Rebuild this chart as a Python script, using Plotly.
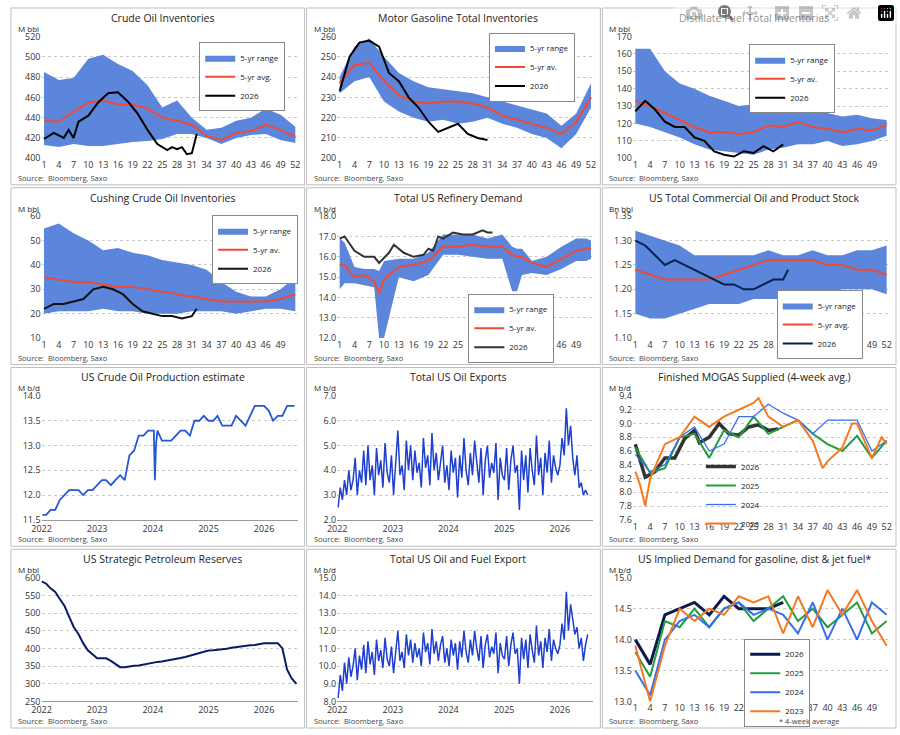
import pandas as pd
import plotly.graph_objects as go
from plotly.subplots import make_subplots

# ---- data ----
W = [1, 4, 7, 10, 13, 16, 19, 22, 25, 28, 31, 34, 37, 40, 43, 46, 49, 52]

crude_hi = [485, 477, 479, 498, 502, 493, 486, 472, 450, 457, 440, 428, 430, 437, 440, 449, 443, 431]
crude_lo = [413, 411, 414, 412, 412, 414, 416, 417, 419, 424, 424, 420, 414, 420, 423, 424, 418, 415]
crude_avg = [437, 436, 446, 455, 457, 453, 453, 449, 440, 437, 433, 422, 418, 425, 427, 433, 428, 421]
crude_wk = [1, 3, 5, 6, 7, 8, 10, 12, 14, 16, 18, 20, 22, 24, 26, 27, 28, 29, 30, 31, 32]
crude_26 = [419, 425, 420, 428, 420, 436, 442, 455, 464, 465, 456, 444, 428, 414, 408, 411, 409, 411, 404, 405, 424]

gas_hi = [240, 255, 259, 250, 242, 238, 235, 234, 233, 232, 230, 228, 226, 224, 222, 216, 222, 237]
gas_lo = [232, 238, 240, 228, 223, 220, 218, 219, 217, 218, 220, 217, 215, 212, 210, 205, 212, 225]
gas_avg = [237, 246, 247, 238, 231, 228, 227, 228, 228, 227, 225, 221, 219, 217, 215, 212, 218, 230]
gas_wk = [1, 3, 5, 7, 9, 11, 13, 15, 17, 19, 21, 23, 25, 27, 29, 31]
gas_26 = [233, 250, 257, 258, 255, 242, 238, 230, 225, 218, 213, 215, 217, 212, 210, 209]

dist_hi = [163, 163, 150, 143, 140, 136, 133, 130, 131, 135, 130, 128, 127, 126, 124, 125, 123, 122]
dist_lo = [120, 118, 115, 112, 108, 105, 104, 103, 102, 105, 106, 108, 108, 110, 107, 108, 110, 113]
dist_avg = [133, 130, 126, 122, 118, 115, 115, 114, 115, 119, 118, 121, 118, 117, 115, 117, 116, 119]
dist_wk = [1, 3, 5, 7, 9, 11, 13, 15, 17, 19, 21, 23, 25, 27, 29, 31]
dist_26 = [127, 133, 128, 121, 118, 118, 112, 110, 104, 102, 101, 104, 103, 107, 104, 108]

cush_hi = [55, 57, 53, 50, 46, 47, 45, 44, 42, 41, 40, 38, 33, 29, 27, 27, 30, 35]
cush_lo = [20, 21, 21, 21, 22, 21, 21, 20, 20, 20, 21, 21, 21, 20, 21, 22, 22, 21]
cush_avg = [35, 34, 33, 33, 32, 31, 31, 30, 29, 28, 27, 26, 25, 25, 25, 25, 26, 28]
cush_wk = [1, 3, 5, 7, 9, 11, 13, 15, 17, 19, 21, 23, 25, 27, 29, 31, 32]
cush_26 = [22, 24, 24, 25, 26, 30, 31, 30, 28, 24, 21, 20, 19, 19, 18, 19, 22]

ref_wk = [1, 2, 4, 6, 8, 9, 10, 13, 16, 19, 22, 25, 28, 31, 34, 36, 37, 38, 40, 43, 46, 49, 51, 52]
ref_hi = [16.9, 16.7, 15.5, 15.4, 15.4, 15.3, 15.8, 15.9, 15.9, 16.2, 17.1, 17.1, 17.1, 16.9, 17.1, 16.5, 16.4, 16.4, 15.8, 16.0, 16.5, 16.9, 16.9, 16.8]
ref_lo = [14.4, 14.7, 14.7, 14.6, 14.5, 12.0, 12.0, 15.0, 14.8, 15.1, 16.1, 16.1, 16.0, 15.9, 15.9, 14.3, 14.3, 15.1, 15.2, 15.1, 15.4, 15.8, 15.8, 15.9]
ref_avg = [15.6, 15.6, 15.0, 15.1, 14.8, 14.2, 14.9, 15.5, 15.6, 15.8, 16.5, 16.5, 16.6, 16.5, 16.5, 16.1, 16.0, 16.0, 15.7, 15.5, 15.9, 16.3, 16.4, 16.4]
ref_26wk = [1, 2, 4, 6, 8, 9, 11, 12, 14, 16, 18, 19, 20, 21, 22, 24, 26, 28, 30, 31, 32]
ref_26 = [16.9, 17.0, 16.3, 16.0, 16.0, 15.7, 16.2, 16.6, 16.2, 16.0, 16.1, 16.4, 16.3, 17.0, 16.9, 17.2, 17.1, 17.1, 17.3, 17.2, 17.2]

com_hi = [1.32, 1.31, 1.30, 1.29, 1.27, 1.27, 1.27, 1.27, 1.27, 1.28, 1.27, 1.27, 1.28, 1.27, 1.27, 1.28, 1.28, 1.29]
com_lo = [1.15, 1.14, 1.14, 1.15, 1.16, 1.17, 1.17, 1.17, 1.18, 1.18, 1.18, 1.18, 1.19, 1.19, 1.20, 1.20, 1.20, 1.19]
com_avg = [1.24, 1.23, 1.22, 1.22, 1.22, 1.22, 1.23, 1.24, 1.25, 1.26, 1.26, 1.26, 1.26, 1.25, 1.25, 1.24, 1.24, 1.23]
com_wk = [1, 3, 5, 7, 9, 11, 13, 15, 17, 19, 21, 23, 25, 27, 29, 31, 32]
com_26 = [1.30, 1.29, 1.27, 1.25, 1.26, 1.25, 1.24, 1.23, 1.22, 1.21, 1.21, 1.20, 1.20, 1.21, 1.22, 1.22, 1.24]

prod_dates = ["2022-01-07", "2022-02-01", "2022-03-01", "2022-04-01", "2022-05-01", "2022-06-01", "2022-07-01",
              "2022-08-01", "2022-09-01", "2022-10-01", "2022-11-01", "2022-12-01", "2023-01-01", "2023-02-01",
              "2023-03-01", "2023-04-01", "2023-05-01", "2023-06-01", "2023-07-01", "2023-08-01", "2023-09-01",
              "2023-10-01", "2023-11-01", "2023-12-01", "2024-01-08", "2024-01-15", "2024-01-22", "2024-02-01",
              "2024-03-01", "2024-04-01", "2024-05-01", "2024-06-01", "2024-07-01", "2024-08-01", "2024-09-01",
              "2024-10-01", "2024-11-01", "2024-12-01", "2025-01-01", "2025-02-01", "2025-03-01", "2025-04-01",
              "2025-05-01", "2025-06-01", "2025-07-01", "2025-08-01", "2025-09-01", "2025-10-01", "2025-11-01",
              "2025-12-01", "2026-01-01", "2026-02-01", "2026-03-01", "2026-04-01", "2026-05-01", "2026-06-01",
              "2026-07-01", "2026-07-20"]
prod = [11.6, 11.6, 11.7, 11.7, 11.9, 12.0, 12.1, 12.1, 12.1, 12.0, 12.1, 12.1,
        12.2, 12.3, 12.3, 12.2, 12.3, 12.4, 12.3, 12.8, 12.9, 13.2, 13.2, 13.3,
        13.3, 12.3, 13.0, 13.3, 13.1, 13.1, 13.1, 13.2, 13.3, 13.3, 13.2, 13.5, 13.5, 13.6,
        13.5, 13.5, 13.6, 13.4, 13.4, 13.4, 13.6, 13.5, 13.4, 13.6, 13.8, 13.8,
        13.8, 13.7, 13.5, 13.6, 13.6, 13.8, 13.8, 13.8]

exports = [2.5, 3.3, 2.8, 3.6, 3.0, 4.0, 3.2, 3.6, 4.5, 3.0, 4.0, 3.5, 4.8, 3.4, 5.0, 3.6, 4.2, 3.0, 4.9, 3.8, 4.4, 3.3, 5.1, 3.9, 3.5, 4.6,
           3.0, 4.5, 5.6, 3.8, 4.2, 3.2, 5.2, 4.0, 5.0, 3.6, 4.8, 3.9, 4.3, 3.3, 5.3, 4.1, 4.6, 3.4, 5.5, 4.0, 4.7, 3.6, 4.4, 5.0, 3.5, 4.2,
           3.2, 4.8, 3.9, 4.5, 2.9, 4.6, 3.7, 5.3, 4.0, 3.4, 4.7, 3.8, 5.2, 4.2, 3.5, 4.9, 3.0, 4.4, 5.0, 3.7, 4.3, 3.9, 5.1, 2.8, 4.5, 3.8,
           3.6, 4.9, 3.2, 4.4, 5.0, 3.9, 4.2, 2.4, 4.8, 3.6, 4.6, 3.1, 4.9, 4.0, 3.4, 5.4, 3.8, 4.5, 3.0, 4.7, 3.9, 5.2, 3.5, 4.6, 4.1, 3.8,
           4.2, 5.3, 4.6, 6.5, 5.0, 5.8, 4.5, 3.8, 4.6, 3.3, 3.5, 3.0, 3.2, 3.0]

fuel_exports = [8.2, 9.5, 8.6, 10.2, 9.0, 10.5, 9.4, 10.0, 11.0, 9.2, 10.6, 9.8, 11.2, 9.6, 11.4, 10.1, 10.8, 9.5, 11.5, 10.3, 10.9, 9.9, 11.6, 10.4, 10.0, 11.1,
                9.6, 11.0, 12.0, 10.3, 10.8, 9.9, 11.8, 10.6, 11.5, 10.2, 11.3, 10.5, 11.0, 10.0, 11.9, 10.8, 11.3, 10.1, 12.1, 10.7, 11.4, 10.3, 11.2, 11.7, 10.2, 11.0,
                10.0, 11.5, 10.6, 11.3, 9.8, 11.4, 10.5, 12.0, 10.8, 10.2, 11.5, 10.6, 12.0, 11.0, 10.3, 11.7, 9.9, 11.2, 11.8, 10.5, 11.1, 10.7, 11.9, 9.6, 11.3, 10.6,
                10.4, 11.7, 10.0, 11.2, 11.9, 10.7, 11.0, 9.0, 11.6, 10.4, 11.5, 9.9, 11.8, 10.9, 10.2, 12.3, 10.6, 11.4, 9.9, 11.6, 10.8, 12.1, 10.3, 11.5, 11.0, 10.7,
                11.2, 12.4, 11.5, 14.2, 12.0, 13.5, 12.6, 11.8, 12.2, 11.0, 11.6, 10.3, 11.2, 11.8]
export_dates = pd.date_range("2022-01-07", periods=len(exports), freq="14D")

spr_dates = pd.date_range("2022-01-01", periods=56, freq="MS")
spr = [590, 583, 570, 560, 540, 520, 490, 460, 440, 415, 395, 385,
       372, 372, 372, 365, 355, 347, 347, 350, 351, 352, 355, 357,
       360, 362, 363, 365, 368, 371, 373, 376, 380, 383, 387, 392,
       394, 395, 396, 397, 399, 402, 404, 405, 407, 409, 410, 413,
       415, 415, 416, 415, 400, 340, 315, 300]

mog_wk23 = [1, 2, 3, 4, 7, 10, 13, 16, 19, 22, 25, 26, 28, 31, 34, 37, 39, 40, 43, 45, 46, 49, 51, 52]
mog_23 = [8.3, 8.1, 7.8, 8.2, 8.7, 8.8, 9.1, 8.95, 9.1, 9.2, 9.3, 9.37, 9.1, 8.95, 9.05, 8.75, 8.35, 8.45, 8.65, 9.0, 9.0, 8.5, 8.8, 8.7]
mog_24 = [8.55, 8.3, 8.4, 8.8, 8.95, 8.6, 8.7, 9.1, 9.1, 9.28, 9.15, 9.05, 8.85, 9.05, 9.05, 9.05, 8.6, 8.75]
mog_25 = [8.65, 8.28, 8.35, 8.8, 8.85, 8.5, 8.9, 8.8, 9.1, 8.85, 8.95, 9.05, 8.85, 8.7, 8.6, 8.82, 8.5, 8.75]
mog_wk26 = [1, 3, 5, 7, 9, 11, 13, 14, 16, 18, 20, 22, 24, 26, 28, 30]
mog_26 = [8.7, 8.22, 8.3, 8.5, 8.5, 8.78, 8.9, 8.72, 8.8, 9.0, 8.85, 8.83, 8.95, 8.98, 8.9, 8.92]

dem_23 = [13.9, 13.0, 13.9, 14.5, 14.3, 14.5, 14.4, 14.7, 14.6, 14.7, 14.1, 14.7, 14.2, 14.8, 14.4, 14.8, 14.3, 13.9]
dem_24 = [13.5, 13.1, 14.0, 14.3, 14.4, 14.2, 14.5, 14.6, 14.4, 14.5, 14.4, 14.1, 14.6, 14.0, 14.5, 14.0, 14.6, 14.4]
dem_25 = [13.8, 13.4, 14.3, 14.2, 14.5, 14.2, 14.5, 14.6, 14.3, 14.5, 14.7, 14.3, 14.5, 14.2, 14.4, 14.6, 14.1, 14.3]
dem_wk26 = [1, 4, 7, 10, 13, 16, 19, 22, 25, 28, 31]
dem_26 = [14.0, 13.6, 14.4, 14.5, 14.6, 14.4, 14.7, 14.5, 14.5, 14.5, 14.6]

RANGE_C = "#5b86dc"
AVG_C = "#f04a37"
FONT = "Open Sans"


def main():
    fig = make_subplots(rows=4, cols=3)
    row_px = [(0, 182), (183, 365), (366, 550), (551, 735)]
    H, Wd = 735.0, 900.0

    def axn(r, c):
        n = (r - 1) * 3 + c
        return "" if n == 1 else str(n)

    def add(r, c, tr):
        fig.add_trace(tr, row=r, col=c)

    def seasonal(r, c, x, lo, hi, avg, xw, y26, leg, c26="black", avg_name="5-yr avg."):
        add(r, c, go.Scatter(x=x, y=lo, mode="lines", line=dict(width=0), showlegend=False, hoverinfo="skip"))
        add(r, c, go.Scatter(x=x, y=hi, mode="lines", line=dict(width=0), fill="tonexty",
                             fillcolor=RANGE_C, name="5-yr range", legend=leg))
        add(r, c, go.Scatter(x=x, y=avg, mode="lines", line=dict(color=AVG_C, width=2), name=avg_name, legend=leg))
        add(r, c, go.Scatter(x=xw, y=y26, mode="lines", line=dict(color=c26, width=2), name="2026", legend=leg))

    seasonal(1, 1, W, crude_lo, crude_hi, crude_avg, crude_wk, crude_26, "legend")
    seasonal(1, 2, W, gas_lo, gas_hi, gas_avg, gas_wk, gas_26, "legend2", avg_name="5-yr av.")
    seasonal(1, 3, W, dist_lo, dist_hi, dist_avg, dist_wk, dist_26, "legend3", avg_name="5-yr av.")
    seasonal(2, 1, W, cush_lo, cush_hi, cush_avg, cush_wk, cush_26, "legend4", c26="#111", avg_name="5-yr av.")
    seasonal(2, 2, ref_wk, ref_lo, ref_hi, ref_avg, ref_26wk, ref_26, "legend5", c26="#333", avg_name="5-yr av.")
    seasonal(2, 3, W, com_lo, com_hi, com_avg, com_wk, com_26, "legend6", c26="#0b1f4f")

    add(3, 1, go.Scatter(x=pd.to_datetime(prod_dates), y=prod, mode="lines", line=dict(color="#2357d6", width=1.8), showlegend=False))
    add(3, 2, go.Scatter(x=export_dates, y=exports, mode="lines", line=dict(color="#1f3fd0", width=1.5), showlegend=False))
    add(4, 1, go.Scatter(x=spr_dates, y=spr, mode="lines", line=dict(color="#0a1a6a", width=2), showlegend=False))
    add(4, 2, go.Scatter(x=export_dates, y=fuel_exports, mode="lines", line=dict(color="#1f3fd0", width=1.5), showlegend=False))

    add(3, 3, go.Scatter(x=mog_wk26, y=mog_26, mode="lines", line=dict(color="#333333", width=3.5), name="2026", legend="legend9"))
    add(3, 3, go.Scatter(x=W, y=mog_25, mode="lines", line=dict(color="#1e9e3c", width=2), name="2025", legend="legend9"))
    add(3, 3, go.Scatter(x=W, y=mog_24, mode="lines", line=dict(color="#3a6cf0", width=1.3), name="2024", legend="legend9"))
    add(3, 3, go.Scatter(x=mog_wk23, y=mog_23, mode="lines", line=dict(color="#f47a20", width=2), name="2023", legend="legend9"))

    add(4, 3, go.Scatter(x=dem_wk26, y=dem_26, mode="lines", line=dict(color="#0b1a4f", width=3), name="2026", legend="legend12"))
    add(4, 3, go.Scatter(x=W, y=dem_25, mode="lines", line=dict(color="#1e9e3c", width=2), name="2025", legend="legend12"))
    add(4, 3, go.Scatter(x=W, y=dem_24, mode="lines", line=dict(color="#3a6cf0", width=2), name="2024", legend="legend12"))
    add(4, 3, go.Scatter(x=W, y=dem_23, mode="lines", line=dict(color="#f47a20", width=2), name="2023", legend="legend12"))

    titles = [["Crude Oil Inventories", "Motor Gasoline Total Inventories", "Distillate Fuel Total Inventories"],
              ["Cushing Crude Oil Inventories", "Total US Refinery Demand", "US Total Commercial Oil and Product Stock"],
              ["US Crude Oil Production estimate", "Total US Oil Exports", "Finished MOGAS Supplied (4-week avg.)"],
              ["US Strategic Petroleum Reserves", "Total US Oil and Fuel Export", "US Implied Demand for gasoline, dist & jet fuel*"]]
    units = [["M bbl", "M bbl", "M bbl"], ["M bbl", "M b/d", "Bn bbl"],
             ["M b/d", "M b/d", "M b/d"], ["M bbl", "M b/d", "M b/d"]]
    yr = [[(400, 520, 20), (200, 260, 10), (100, 170, 10)],
          [(10, 60, 10), (12, 18, 1), (1.10, 1.35, 0.05)],
          [(11.5, 14.0, 0.5), (2, 7, 1), (7.6, 9.4, 0.2)],
          [(250, 600, 50), (8, 15, 1), (13.0, 15.0, 0.5)]]
    yfmt = [[None, None, None], [None, ".1f", ".2f"], [".1f", ".1f", ".1f"], [None, ".1f", ".1f"]]
    wk_ticks = {(1, 1): list(range(1, 53, 3)), (1, 2): list(range(1, 53, 3)), (1, 3): list(range(1, 50, 3)),
                (2, 1): list(range(1, 50, 3)), (2, 2): list(range(1, 50, 3)), (2, 3): list(range(1, 53, 3)),
                (3, 3): list(range(1, 53, 3)), (4, 3): list(range(1, 50, 3))}
    date_panels = [(3, 1), (3, 2), (4, 1), (4, 2)]

    shapes, annots = [], []
    for r in range(1, 5):
        top, bot = row_px[r - 1]
        for c in range(1, 4):
            left = (c - 1) * 300
            n = axn(r, c)
            fig.layout["xaxis" + n].domain = [(left + 32) / Wd, (left + 292) / Wd]
            fig.layout["yaxis" + n].domain = [1 - (bot - 28) / H, 1 - (top + 30) / H]
            lo, hi, dt = yr[r - 1][c - 1]
            yk = dict(range=[lo, hi], dtick=dt, tick0=lo, showgrid=True, gridcolor="#c8c8c8", griddash="dot",
                      zeroline=False, showline=False, ticks="", tickfont=dict(size=9, color="#333"))
            if yfmt[r - 1][c - 1]:
                yk["tickformat"] = yfmt[r - 1][c - 1]
            fig.layout["yaxis" + n].update(yk)
            xk = dict(showgrid=False, zeroline=False, tickfont=dict(size=9, color="#333"), ticks="",
                      showline=(r, c) in date_panels, linecolor="#999")
            if (r, c) in date_panels:
                xk.update(range=["2022-01-01", "2026-08-10"], tickvals=pd.date_range("2022-01-01", "2026-01-01", freq="YS"),
                          tickformat="%Y")
            else:
                xk.update(range=[0.5, 52.5], tickvals=wk_ticks[(r, c)])
            fig.layout["xaxis" + n].update(xk)
            shapes.append(dict(type="rect", xref="paper", yref="paper", x0=(left + 1) / Wd, x1=(left + 299) / Wd,
                               y0=1 - (bot - 1) / H, y1=1 - (top + 1) / H, line=dict(color="#bdbdbd", width=1)))
            annots.append(dict(xref="paper", yref="paper", x=(left + 155) / Wd, y=1 - (top + 2) / H, xanchor="center",
                               yanchor="top", text=titles[r - 1][c - 1], showarrow=False, font=dict(size=10.5, color="#222")))
            annots.append(dict(xref="paper", yref="paper", x=(left + 6) / Wd, y=1 - (top + 14) / H, xanchor="left",
                               yanchor="top", text=units[r - 1][c - 1], showarrow=False, font=dict(size=8, color="#222")))
            annots.append(dict(xref="paper", yref="paper", x=(left + 6) / Wd, y=1 - (bot - 1) / H, xanchor="left",
                               yanchor="bottom", text="Source:  Bloomberg, Saxo", showarrow=False, font=dict(size=7.5, color="#444")))
    annots.append(dict(xref="paper", yref="paper", x=778 / Wd, y=1 - 734 / H, xanchor="left", yanchor="bottom",
                       text="* 4-week average", showarrow=False, font=dict(size=7.5, color="#444")))

    def leg(x, y, border=True):
        return dict(x=x / Wd, y=1 - y / H, xanchor="left", yanchor="top", xref="paper", yref="paper",
                    bgcolor="white" if border else "rgba(0,0,0,0)", bordercolor="#888" if border else "rgba(0,0,0,0)",
                    borderwidth=1, font=dict(size=8, color="#222"), tracegroupgap=0, itemwidth=30,
                    traceorder="normal")

    fig.update_layout(
        width=900, height=735, margin=dict(l=0, r=0, t=0, b=0),
        paper_bgcolor="white", plot_bgcolor="white", font=dict(family=FONT, size=9),
        shapes=shapes, annotations=annots,
        legend=leg(192, 36), legend2=leg(486, 26), legend3=leg(750, 38), legend4=leg(205, 212),
        legend5=leg(465, 292), legend6=leg(778, 288), legend9=leg(700, 452, False), legend12=leg(745, 643),
    )
    fig.write_html("out.html", post_script="document.body.style.margin='0';document.body.style.overflow='hidden';")


if __name__ == "__main__":
    main()
